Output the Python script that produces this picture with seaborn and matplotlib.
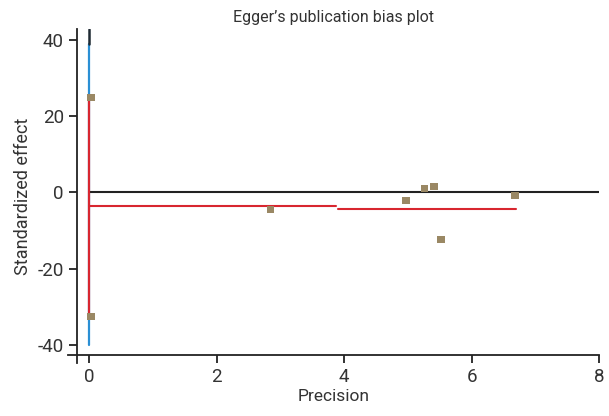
import numpy as np
import pandas as pd
import matplotlib
matplotlib.use("Agg")
import matplotlib.pyplot as plt
import seaborn as sns

# study points (precision, standardized effect)
precision = [0.03, 0.03, 2.84, 4.97, 5.26, 5.41, 5.52, 6.68]
std_effect = [24.9, -32.5, -4.5, -2.1, 1.0, 1.6, -12.3, -0.8]

# reference line at zero
zero_x = [0.0, 8.0]
zero_y = [0.0, 0.0]

# red fitted segments
fit1_x = [0.0, 3.87]
fit1_y = [-3.6, -3.6]
fit2_x = [3.9, 6.69]
fit2_y = [-4.4, -4.4]

# intercept lines at x=0
blue_y = [-40.0, 39.0]
red_y = [-31.7, 25.6]
black_y = [39.0, 42.9]

sns.set_style("ticks")
plt.rcParams["font.family"] = ["Roboto", "DejaVu Sans"]
plt.rcParams["axes.unicode_minus"] = False

fig = plt.figure(figsize=(6.09, 4.16), dpi=100)
ax = fig.add_axes([0.112, 0.127, 0.872, 0.803])

ax.plot([0, 0], blue_y, color="#2a8fd4", lw=1.6, zorder=2)
ax.plot([0, 0], black_y, color="#1f2a33", lw=1.8, zorder=2)
ax.plot([0, 0], red_y, color="#d8262f", lw=1.6, zorder=3)
ax.plot(zero_x, zero_y, color="#222222", lw=1.5, zorder=2)
ax.plot(fit1_x, fit1_y, color="#d8262f", lw=1.5, zorder=2)
ax.plot(fit2_x, fit2_y, color="#d8262f", lw=1.5, zorder=2)

df = pd.DataFrame({"Precision": precision, "Standardized effect": std_effect})
sns.scatterplot(data=df, x="Precision", y="Standardized effect", ax=ax,
                marker="s", s=28, color="#9a8864", edgecolor="none", zorder=4)

ax.set_xlim(-0.33, 8.0)
ax.set_ylim(-44.8, 42.8)
ax.set_xticks([0, 2, 4, 6, 8])
ax.set_yticks([-40, -20, 0, 20, 40])
ax.spines["left"].set_position(("data", -0.19))
ax.spines["bottom"].set_position(("data", -42.7))
ax.spines["top"].set_visible(False)
ax.spines["right"].set_visible(False)
for s in ["left", "bottom"]:
    ax.spines[s].set_color("#222222")
    ax.spines[s].set_linewidth(1.3)
ax.tick_params(colors="#222222", labelsize=13.5, width=1.3, length=6, labelcolor="#333333")

ax.set_xlabel("Precision", fontsize=12.5, color="#333333", labelpad=2)
ax.set_ylabel("Standardized effect", fontsize=13, color="#333333", labelpad=4)
ax.set_title("Egger\u2019s publication bias plot", fontsize=11.5, color="#333333", pad=5)

fig.savefig("out.png", dpi=100)
